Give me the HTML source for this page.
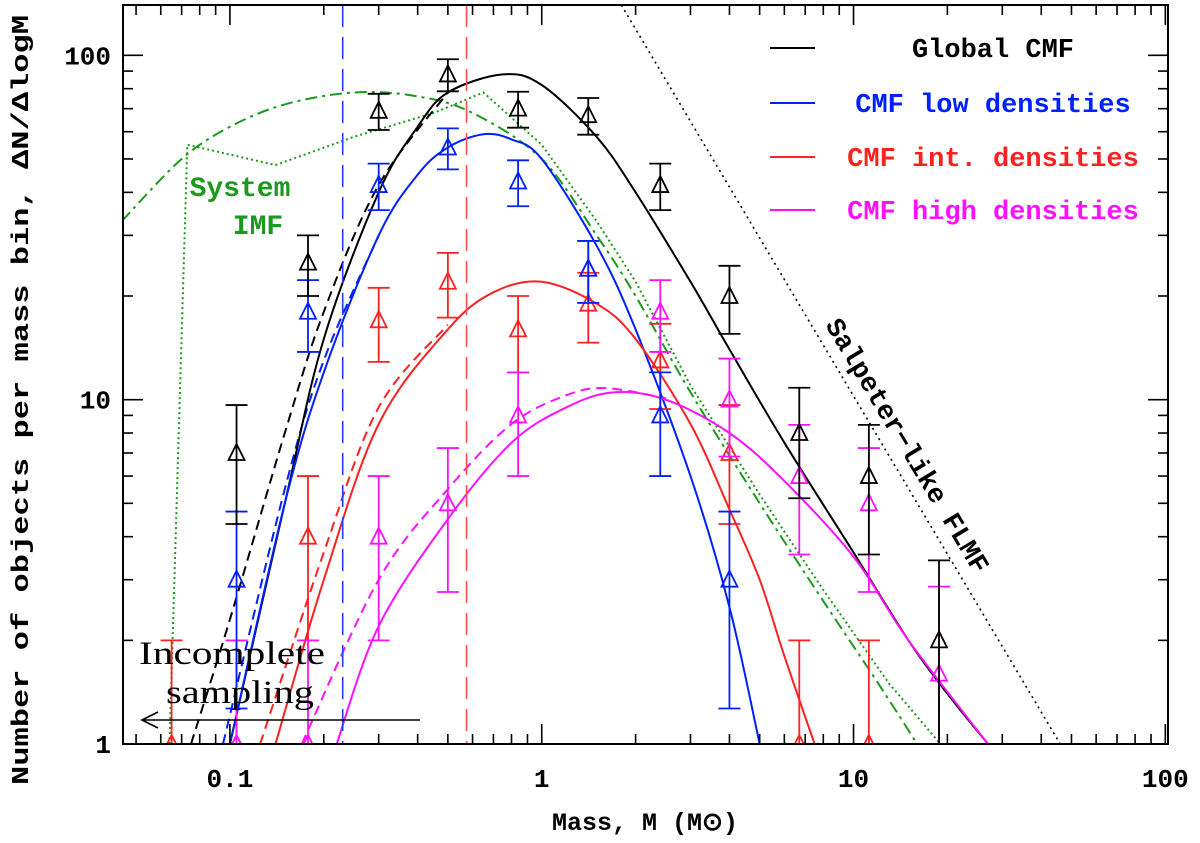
<!DOCTYPE html>
<html><head><meta charset="utf-8"><style>
body{margin:0;background:#fff}
</style></head><body>
<svg id="c" width="1200" height="838" xmlns="http://www.w3.org/2000/svg" font-family="Liberation Mono, monospace" font-weight="bold"></svg>
<script>
const binsM=[0.065,0.105,0.178,0.3,0.5,0.84,1.41,2.4,4,6.7,11.2,18.8];
const blackN=[null,7,25,69,88,70,67,42,20,8,6,2];
const blueN=[null,3,18,42,54,43,24,9,3,null,null,null];
const redN=[1,1,4,17,22,16,19,13,7,1,1,null];
const magN=[null,1,1,4,5,9,24,18,10,6,5,1.6];
const blackFitM=[0.1,0.15,0.2,0.3,0.4,0.5,0.75,1,1.5,2,3,4,6,10,15,20,27];
const blackFitN=[1,5,15,40,62,78,88,82,58,40,22,14,7.5,3.6,2,1.4,1];
const blackDashM=[0.075,0.1,0.15,0.2,0.3,0.5];
const blackDashN=[1,2.3,8,18,42,78];
const blueFitM=[0.1,0.15,0.2,0.3,0.4,0.5,0.65,0.8,1,1.5,2,3,4,5];
const blueFitN=[1,5,12,30,45,54,59,57,50,28,16,6,2.5,1];
const blueDashM=[0.095,0.15,0.2,0.3];
const blueDashN=[1,5.5,13,30];
const redFitM=[0.14,0.2,0.3,0.5,0.7,1,1.5,2,3,4,5,6,7.5];
const redFitN=[1,3,8.5,16,20.5,22,19,15,8.5,4.8,3,1.8,1];
const redDashM=[0.125,0.2,0.3,0.5];
const redDashN=[1,3.6,9.5,16.5];
const magFitM=[0.22,0.3,0.5,0.8,1.2,1.7,2.5,4,6,10,15,27];
const magFitN=[1,2.2,4.5,7.5,9.5,10.5,10,8,5.8,3.5,2,1];
const magDashM=[0.17,0.3,0.5,0.8,1.2,1.6,2.5];
const magDashN=[1,3,5.5,8.5,10.3,10.8,10.1];
const imfDashM=[0.045,0.07,0.1,0.15,0.25,0.4,0.6,1,1.5,2,3,5,8,12,16];
const imfDashN=[33,50,62,72,78,76,68,50,30,20,10.5,5,2.6,1.5,1];
const imfDotM=[0.064,0.073,0.14,0.25,0.45,0.65,1,1.5,2,3,5,8,13,19];
const imfDotN=[1,55,48,58,68,78,55,33,22,11,5.3,2.8,1.5,1];
const salpM=[1.8,46];
const salpN=[140,1];
const xTicks=[0.1,1,10,100];
const yTicks=[1,10,100];

const L=123,R=1168,T=5,B=744;
const xMin=Math.log10(0.0454),xMax=Math.log10(102);
const yMin=0,yMax=Math.log10(140);
const X=m=>L+(Math.log10(m)-xMin)/(xMax-xMin)*(R-L);
const Y=n=>B-(Math.log10(Math.max(n,0.5))-yMin)/(yMax-yMin)*(B-T);
const svg=document.getElementById('c');
const NS='http://www.w3.org/2000/svg';
function mk(t,a,p){const e=document.createElementNS(NS,t);for(const k in a)e.setAttribute(k,a[k]);(p||svg).appendChild(e);return e;}
const defs=mk('defs',{});const cp=mk('clipPath',{id:'pc'},defs);mk('rect',{x:L,y:T,width:R-L,height:B-T},cp);
const plot=mk('g',{'clip-path':'url(#pc)'});



function line(ms,ns,col,dash,name,w,sharp){
 const P=ms.map((m,i)=>[X(m),Y(ns[i])]);
 let d='M'+P[0][0].toFixed(1)+' '+P[0][1].toFixed(1);
 for(let i=0;i<P.length-1;i++){
  if(sharp){d+=' L'+P[i+1][0].toFixed(1)+' '+P[i+1][1].toFixed(1);continue;}
  const p0=P[i-1]||P[i],p1=P[i],p2=P[i+1],p3=P[i+2]||P[i+1];
  const c1=[p1[0]+(p2[0]-p0[0])/6,p1[1]+(p2[1]-p0[1])/6],c2=[p2[0]-(p3[0]-p1[0])/6,p2[1]-(p3[1]-p1[1])/6];
  d+=` C${c1[0].toFixed(1)} ${c1[1].toFixed(1)} ${c2[0].toFixed(1)} ${c2[1].toFixed(1)} ${p2[0].toFixed(1)} ${p2[1].toFixed(1)}`;
 }
 const p=mk('path',{d:d,fill:'none',stroke:col,'stroke-width':w||2,'stroke-dasharray':dash||'none'},plot);
 
 
}
line(salpM,salpN,'#000','2 4','salpeter-line',1.6,true);
line(imfDashM,imfDashN,'#1a9a1a','12 5 3 5','system-imf-dashdot');
line(imfDotM,imfDotN,'#1a9a1a','2 3','system-imf-dotted',2,true);
line(blackDashM,blackDashN,'#000','10 6','global-cmf-dashed');
line(blueDashM,blueDashN,'#0020ff','10 6','low-cmf-dashed');
line(redDashM,redDashN,'#ff2020','10 6','int-cmf-dashed');
line(magDashM,magDashN,'#ff10ff','10 6','high-cmf-dashed');
line(blackFitM,blackFitN,'#000',null,'global-cmf-fit');
line(blueFitM,blueFitN,'#0020ff',null,'low-cmf-fit');
line(redFitM,redFitN,'#ff2020',null,'int-cmf-fit');
line(magFitM,magFitN,'#ff10ff',null,'high-cmf-fit');
[[0.23,'#2040ff','blue-completeness-line'],[0.574,'#ff5050','red-completeness-line']].forEach(v=>{
 const e=mk('line',{x1:X(v[0]),x2:X(v[0]),y1:T,y2:B,stroke:v[1],'stroke-width':1.6,'stroke-dasharray':'22 10'},plot);
 
 
});
function pts(ns,col,name){
 const g=mk('g',{stroke:col,fill:'none','stroke-width':1.8},plot);
 
 
 ns.forEach((n,i)=>{if(n==null)return;const x=X(binsM[i]),y=Y(n),e=Math.sqrt(n);
  const yh=Y(n+e),yl=n-e>0.01?Y(n-e):B+20;
  mk('line',{x1:x,x2:x,y1:yh,y2:yl},g);
  mk('line',{x1:x-11,x2:x+11,y1:yh,y2:yh},g);
  if(yl<B)mk('line',{x1:x-11,x2:x+11,y1:yl,y2:yl},g);
  const t=mk('path',{d:`M${x-8} ${y+7} L${x+8} ${y+7} L${x} ${y-9} Z`},g);
  
  
 });
}
pts(redN,'#ff2020','int-density-points');
pts(magN,'#ff10ff','high-density-points');
pts(blueN,'#0020ff','low-density-points');
pts(blackN,'#000','global-points');
const fr=mk('rect',{x:L,y:T,width:R-L,height:B-T,fill:'none',stroke:'#000','stroke-width':2});


const tg=mk('g',{stroke:'#000','stroke-width':1.6});
for(let d=-2;d<=2;d++)for(let k=1;k<10;k++){const m=k*Math.pow(10,d);const x=X(m);if(x<L||x>R)continue;const h=k==1?20:10;
 mk('line',{x1:x,x2:x,y1:B,y2:B-h},tg);mk('line',{x1:x,x2:x,y1:T,y2:T+h},tg);}
for(let d=0;d<=2;d++)for(let k=1;k<10;k++){const n=k*Math.pow(10,d);const y=Y(n);if(y<T||y>B)continue;const h=k==1?20:10;
 mk('line',{x1:L,x2:L+h,y1:y,y2:y},tg);mk('line',{x1:R,x2:R-h,y1:y,y2:y},tg);}
xTicks.forEach(t=>{const e=mk('text',{x:X(t),y:787,'font-size':26,'text-anchor':'middle'});e.textContent=t;
 
 });
yTicks.forEach(t=>{const e=mk('text',{x:L-12,y:Y(t)+9,'font-size':26,'text-anchor':'end'});e.textContent=t;
 
 });
function txt(s,x,y,o,name){const e=mk('text',Object.assign({x:x,y:y},o));e.textContent=s;
 
 return e;}
txt('Mass, M (M\u2299)',645,830,{'font-size':25,'text-anchor':'middle'},'x-axis-title');
txt('Number of objects per mass bin, \u0394N/\u0394logM',28,400,{'font-size':24,'text-anchor':'middle',transform:'rotate(-90 28 400)',textLength:770,lengthAdjust:'spacingAndGlyphs'},'y-axis-title');
[['Global CMF','#000',48],['CMF low densities','#0020ff',103],['CMF int. densities','#ff2020',157],['CMF high densities','#ff10ff',210]].forEach(l=>{
 const g=mk('g',{});
 
 
 mk('line',{x1:770,x2:815,y1:l[2],y2:l[2],stroke:l[1],'stroke-width':2},g);
 const e=mk('text',{x:993,y:l[2]+9,'font-size':27,fill:l[1],'text-anchor':'middle'},g);e.textContent=l[0];
});
txt('System',240,196,{'font-size':28,fill:'#1a9a1a','text-anchor':'middle'},'system-imf-label');
txt('IMF',258,234,{'font-size':28,fill:'#1a9a1a','text-anchor':'middle'},'system-imf-label-2');
txt('Incomplete',232,664,{'font-size':33,'font-weight':'normal','text-anchor':'middle','font-family':'Liberation Serif, serif',textLength:186,lengthAdjust:'spacingAndGlyphs'},'incomplete-label');
txt('sampling',240,703,{'font-size':33,'font-weight':'normal','text-anchor':'middle','font-family':'Liberation Serif, serif',textLength:148,lengthAdjust:'spacingAndGlyphs'},'sampling-label');
const ar=mk('path',{d:'M420 720 L142 720 M158 712 L142 720 L158 728',stroke:'#000','stroke-width':1.6,fill:'none'});


txt('Salpeter\u2212like FLMF',900,450,{'font-size':27,'text-anchor':'middle',transform:'rotate(59 900 450)'},'salpeter-label');
</script>
</body></html>
